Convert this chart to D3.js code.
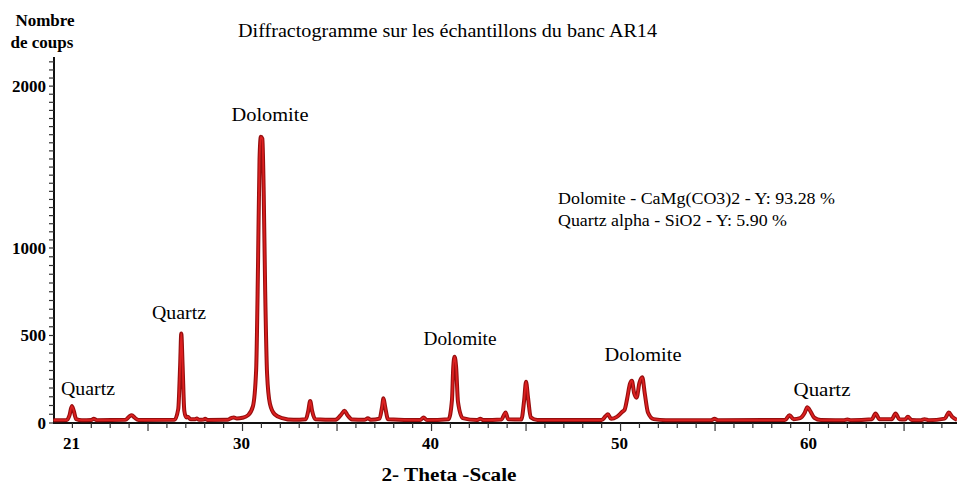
<!DOCTYPE html>
<html><head><meta charset="utf-8">
<script src="https://cdn.jsdelivr.net/npm/d3@7"></script>
<style>
html,body{margin:0;padding:0;background:#fff;}
svg{display:block;font-family:"Liberation Serif","Times New Roman",serif;}
</style></head>
<body><svg id="c" width="957" height="484"></svg>
<script>
// ---- data ----
const twoTheta = [20.0,20.7,20.85,20.97,21.07,21.2,21.5,22.0,22.13,22.3,23.8,24.0,24.14,24.3,24.5,
 26.4,26.6,26.7,26.76,26.83,26.92,27.02,27.1,27.25,27.5,27.58,27.7,27.95,28.02,28.15,
 29.2,29.4,29.54,29.7,30.0,30.3,30.55,30.72,30.82,30.9,30.97,31.05,31.12,31.2,31.3,31.45,31.7,32.1,32.7,
 33.35,33.48,33.58,33.68,33.85,34.9,35.2,35.4,35.55,35.8,36.45,36.63,36.8,
 37.25,37.38,37.46,37.55,37.7,39.4,39.58,39.75,40.9,41.08,41.15,41.22,41.3,41.4,41.65,
 42.4,42.58,42.75,43.7,43.85,43.92,44.05,44.75,44.9,45.0,45.1,45.25,45.6,
 49.0,49.2,49.33,49.5,49.8,50.1,50.21,50.35,50.5,50.6,50.72,50.85,51.0,51.15,51.28,51.45,51.75,52.4,
 54.8,54.97,55.15,58.7,58.94,59.15,59.5,59.75,59.88,60.0,60.25,60.6,61.8,62.0,62.2,
 63.3,63.49,63.7,64.35,64.55,64.75,65.05,65.2,65.4,65.9,66.08,66.3,67.15,67.37,67.55,67.8];
const counts = [16,17,45,97,70,22,16,17,24,16,18,36,45,30,17,
 18,80,330,512,330,70,32,36,22,22,26,18,20,24,17,
 18,28,32,26,30,45,95,300,900,1550,1687,1675,1350,750,280,110,50,28,18,
 22,70,126,70,22,18,45,70,45,20,18,27,18,
 25,90,141,90,22,17,32,17,22,130,320,379,320,120,28,
 17,24,17,20,50,60,22,20,130,236,150,32,17,
 17,38,50,24,35,65,75,140,225,242,170,145,230,261,170,60,22,16,
 16,24,16,17,45,22,28,60,90,75,30,17,16,20,16,
 22,54,22,22,54,22,20,36,17,16,22,16,25,60,35,18];
const xTickLabels = [21, 30, 40, 50, 60];
const yTickLabels = [0, 500, 1000, 2000];
const peakLabels = [
  {text:"Quartz", t:21.0},
  {text:"Quartz", t:26.76},
  {text:"Dolomite", t:30.97},
  {text:"Dolomite", t:41.22},
  {text:"Dolomite", t:50.9},
  {text:"Quartz", t:59.88}
];
const legendLines = ["Dolomite - CaMg(CO3)2 - Y: 93.28 %", "Quartz alpha - SiO2 - Y: 5.90 %"];
const title = "Diffractogramme sur les échantillons du banc AR14";

// ---- drawing ----
const svg = d3.select("#c");
const x = d3.scaleLinear().domain([20, 67.8]).range([53.5, 957]);
const y = d3.scaleLinear().domain([0, 1000, 2180]).range([423, 248, 57]);

// y axis
const yAxisG = svg.append("g").attr("transform","translate(54,0)");
yAxisG.append("line").attr("x1",0).attr("x2",0).attr("y1",y(2180)).attr("y2",y(0))
  .attr("stroke","#111").attr("stroke-width",2);
yAxisG.selectAll("line.t").data(d3.range(0, 2151, 50)).join("line").attr("class","t")
  .attr("x1",-5).attr("x2",0).attr("y1",d=>y(d)).attr("y2",d=>y(d))
  .attr("stroke","#333").attr("stroke-width",1.2);
yAxisG.selectAll("text").data(yTickLabels).join("text")
  .attr("x",-8).attr("y",d=>y(d)).attr("dy","0.35em").attr("text-anchor","end")
  .attr("font-size",17).attr("font-weight","bold").text(d=>d);

// x axis
const xAxisG = svg.append("g").attr("transform","translate(0,423)");
xAxisG.append("line").attr("x1",53).attr("x2",957).attr("y1",0).attr("y2",0)
  .attr("stroke","#111").attr("stroke-width",2);
xAxisG.selectAll("line.t").data(d3.range(21, 68, 1)).join("line").attr("class","t")
  .attr("x1",d=>x(d)).attr("x2",d=>x(d)).attr("y1",0).attr("y2",d=>d%5===0?8:5)
  .attr("stroke","#333").attr("stroke-width",1.2);
xAxisG.selectAll("text").data(xTickLabels).join("text")
  .attr("x",d=>x(d)-1).attr("y",26).attr("text-anchor","middle")
  .attr("font-size",17).attr("font-weight","bold").text(d=>d);

// curve
const pts = twoTheta.map((t,i)=>[t, counts[i]]);
const line = d3.line().x(d=>x(d[0])).y(d=>y(d[1])).curve(d3.curveMonotoneX);
svg.append("path").attr("d",line(pts)).attr("fill","none")
  .attr("stroke","#960e0e").attr("stroke-width",4).attr("stroke-linejoin","round");
svg.append("path").attr("d",line(pts)).attr("fill","none")
  .attr("stroke","#dc2020").attr("stroke-width",1.8).attr("stroke-linejoin","round");

// peak labels
const labelPos = [[88,395],[179,319],[270,121],[460,345],[643,361],[822,396]];
const labelW = [54,54,77,73,77,57];
svg.selectAll("text.pk").data(peakLabels).join("text").attr("class","pk")
  .attr("x",(d,i)=>labelPos[i][0]).attr("y",(d,i)=>labelPos[i][1])
  .attr("text-anchor","middle").attr("font-size",19)
  .attr("textLength",(d,i)=>labelW[i]).attr("lengthAdjust","spacingAndGlyphs")
  .text(d=>d.text);

// legend
svg.selectAll("text.lg").data(legendLines).join("text").attr("class","lg")
  .attr("x",558).attr("y",(d,i)=>204+i*22).attr("font-size",17.5)
  .attr("textLength",(d,i)=>i===0?277:229).attr("lengthAdjust","spacingAndGlyphs")
  .text(d=>d);

// title
svg.append("text").attr("x",238).attr("y",37).attr("font-size",18)
  .attr("textLength",419).attr("lengthAdjust","spacingAndGlyphs").text(title);

// axis titles
svg.append("text").attr("x",45).attr("y",26).attr("text-anchor","middle")
  .attr("font-size",17).attr("font-weight","bold").text("Nombre");
svg.append("text").attr("x",42).attr("y",48).attr("text-anchor","middle")
  .attr("font-size",17).attr("font-weight","bold").text("de coups");
svg.append("text").attr("x",449).attr("y",481).attr("text-anchor","middle")
  .attr("font-size",18).attr("font-weight","bold")
  .attr("textLength",135).attr("lengthAdjust","spacingAndGlyphs").text("2- Theta -Scale");
</script></body></html>
